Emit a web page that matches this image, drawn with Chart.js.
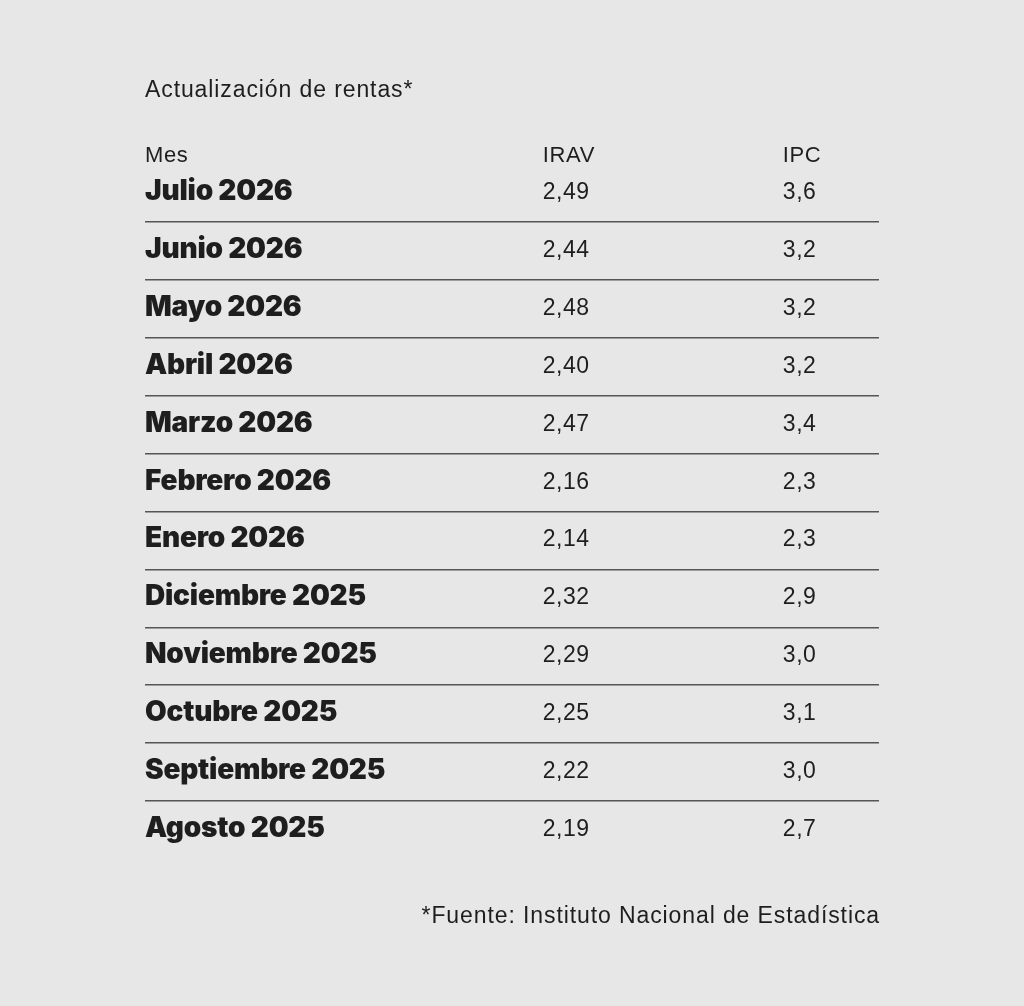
<!DOCTYPE html>
<html>
<head>
<meta charset="utf-8">
<script src="https://cdn.jsdelivr.net/npm/chart.js@4/dist/chart.umd.min.js"></script>
<style>
  html, body { margin: 0; padding: 0; background: #e7e7e7; }
  #wrap { width: 1024px; height: 1006px; }
</style>
</head>
<body>
<div id="wrap"><canvas id="tabla" width="1024" height="1006"></canvas></div>
<script>
// datos de la tabla
const meses = ['Julio 2026', 'Junio 2026', 'Mayo 2026', 'Abril 2026', 'Marzo 2026', 'Febrero 2026',
  'Enero 2026', 'Diciembre 2025', 'Noviembre 2025', 'Octubre 2025', 'Septiembre 2025', 'Agosto 2025'];
const irav = [2.49, 2.44, 2.48, 2.40, 2.47, 2.16, 2.14, 2.32, 2.29, 2.25, 2.22, 2.19];
const ipc = [3.6, 3.2, 3.2, 3.2, 3.4, 2.3, 2.3, 2.9, 3.0, 3.1, 3.0, 2.7];
const columnas = ['Mes', 'IRAV', 'IPC'];
const decimales = [null, 2, 1];

const titulo = 'Actualización de rentas*';
const fuente = '*Fuente: Instituto Nacional de Estadística';

// posicion de cada columna en el eje x (0..1)
const colPos = [0, 0.542, 0.869];
const tinta = '#1e1e1e';

const coma = (v, d) => v.toFixed(d).replace('.', ',');

const textos = {
  id: 'textos',
  afterDatasetsDraw(chart) {
    const {ctx, chartArea, scales} = chart;
    const x = scales.x, y = scales.y;
    ctx.save();
    ctx.fillStyle = tinta;
    ctx.textAlign = 'left';
    ctx.textBaseline = 'alphabetic';

    // titulo
    ctx.font = '400 23px "Liberation Sans", Arial, sans-serif';
    ctx.letterSpacing = '0.9px';
    ctx.fillText(titulo, chartArea.left, 97);

    // cabecera
    ctx.font = '400 22px "Liberation Sans", Arial, sans-serif';
    ctx.letterSpacing = '0.6px';
    columnas.forEach((c, i) => {
      ctx.fillText(c, x.getPixelForValue(colPos[i]), 162);
    });

    // meses en negrita
    ctx.font = '900 28px Inter, "Liberation Sans", sans-serif';
    ctx.letterSpacing = '-0.2px';
    meses.forEach((m, i) => {
      ctx.fillText(m, x.getPixelForValue(colPos[0]), y.getPixelForValue(i) + 7);
    });

    // valores desde los puntos de cada serie
    ctx.font = '400 23px "Liberation Sans", Arial, sans-serif';
    ctx.letterSpacing = '0.5px';
    chart.data.datasets.forEach((ds, di) => {
      const meta = chart.getDatasetMeta(di);
      meta.data.forEach((pt, i) => {
        ctx.fillText(coma(ds.data[i].v, decimales[di + 1]), pt.x, pt.y + 6);
      });
    });

    // fuente
    ctx.textAlign = 'right';
    ctx.font = '400 23px "Liberation Sans", Arial, sans-serif';
    ctx.letterSpacing = '0.9px';
    ctx.fillText(fuente, chartArea.right + 1, 923);
    ctx.restore();
  }
};

const fondo = {
  id: 'fondo',
  beforeDraw(chart) {
    const ctx = chart.ctx;
    ctx.save();
    ctx.fillStyle = '#e7e7e7';
    ctx.fillRect(0, 0, chart.width, chart.height);
    ctx.restore();
  }
};

new Chart(document.getElementById('tabla'), {
  type: 'scatter',
  data: {
    datasets: [
      { label: 'IRAV', data: irav.map((v, i) => ({x: colPos[1], y: meses[i], v: v})), pointRadius: 0 },
      { label: 'IPC', data: ipc.map((v, i) => ({x: colPos[2], y: meses[i], v: v})), pointRadius: 0 }
    ]
  },
  options: {
    responsive: false,
    animation: false,
    layout: { padding: { left: 145, right: 145, top: 164, bottom: 147 } },
    plugins: { legend: { display: false }, tooltip: { enabled: false } },
    scales: {
      x: { type: 'linear', min: 0, max: 1, display: false },
      y: {
        type: 'category',
        labels: meses,
        offset: true,
        ticks: { display: false },
        border: { display: false },
        grid: {
          offset: true,
          drawTicks: false,
          lineWidth: 1.6,
          color: c => (c.index === undefined || c.index === 0) ? 'rgba(0,0,0,0)' : '#555555'
        }
      }
    }
  },
  plugins: [fondo, textos]
});
</script>
</body>
</html>
